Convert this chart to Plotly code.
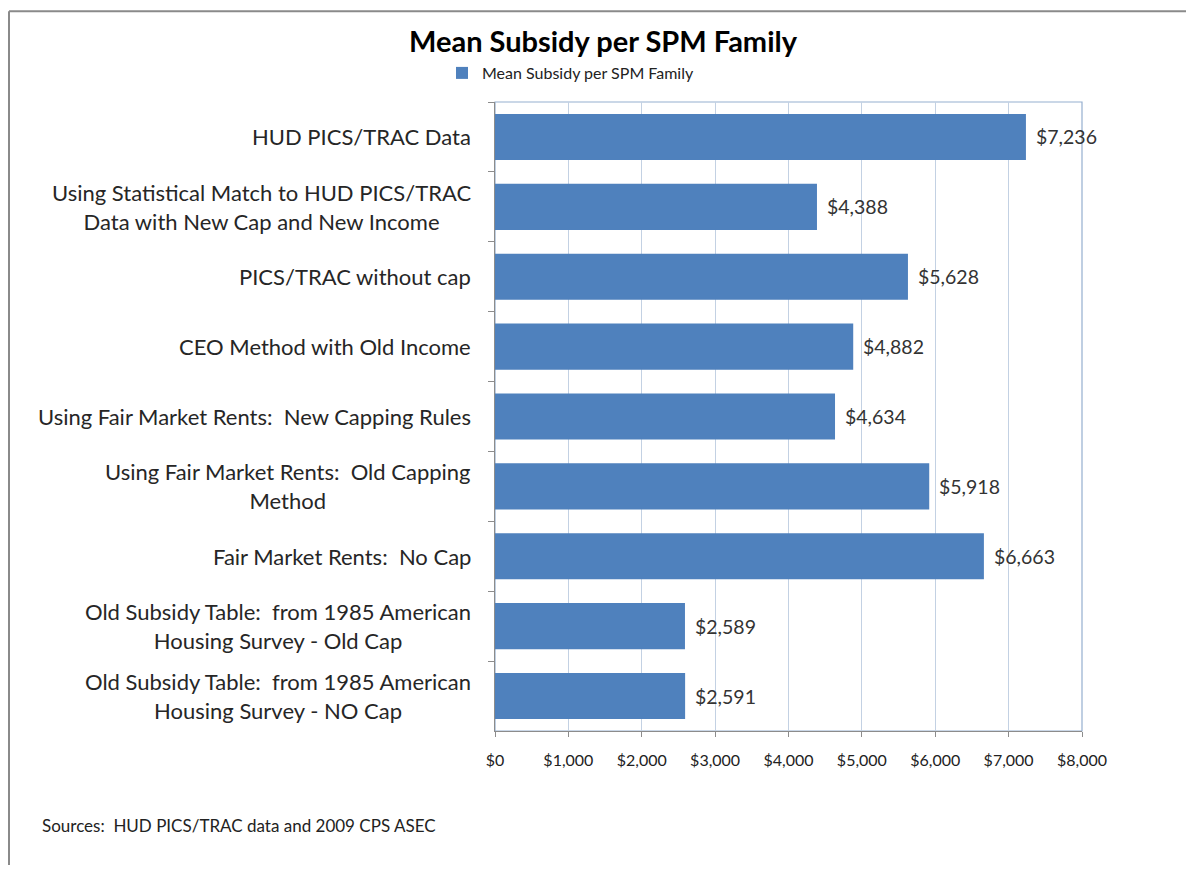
import plotly.graph_objects as go

categories = [
    "HUD PICS/TRAC Data",
    "Using Statistical Match to HUD PICS/TRAC<br>Data with New Cap and New Income",
    "PICS/TRAC without cap",
    "CEO Method with Old Income",
    "Using Fair Market Rents:  New Capping Rules",
    "Using Fair Market Rents:  Old Capping<br>Method",
    "Fair Market Rents:  No Cap",
    "Old Subsidy Table:  from 1985 American<br>Housing Survey - Old Cap",
    "Old Subsidy Table:  from 1985 American<br>Housing Survey - NO Cap",
]
values = [7236, 4388, 5628, 4882, 4634, 5918, 6663, 2589, 2591]
tick_vals = [0, 1000, 2000, 3000, 4000, 5000, 6000, 7000, 8000]
tick_text = ["$0", "$1,000", "$2,000", "$3,000", "$4,000", "$5,000", "$6,000", "$7,000", "$8,000"]
series_name = "Mean Subsidy per SPM Family"
title_text = "Mean Subsidy per SPM Family"
source_text = "Sources:  HUD PICS/TRAC data and 2009 CPS ASEC"

FONT = "Lato, 'Open Sans', sans-serif"
W, H = 1178, 857
L, R, T, B = 487, 104, 92, 134
PW = W - L - R
PH = H - T - B

def px_to_paper_x(px):
    return (px - L) / PW

def px_to_paper_y(py):
    return (H - B - py) / PH

fig = go.Figure()
fig.add_trace(go.Bar(
    y=categories, x=values, orientation="h", name=series_name,
    marker=dict(color="#4f81bd", line=dict(width=0)),
    showlegend=True,
))

annotations = []
for c in categories:
    annotations.append(dict(
        x=0, xref="paper", y=c, yref="y", text=c, showarrow=False,
        xanchor="right", yanchor="middle", align="center", xshift=-22,
        font=dict(family=FONT, size=22, color="#262626"),
    ))
for c, v in zip(categories, values):
    annotations.append(dict(
        x=v, xref="x", y=c, yref="y", text="${:,}".format(v), showarrow=False,
        xanchor="left", yanchor="middle", xshift=8,
        font=dict(family=FONT, size=19.5, color="#333333"),
    ))
annotations.append(dict(
    x=px_to_paper_x(32), xref="paper", y=px_to_paper_y(818), yref="paper",
    text=source_text, showarrow=False, xanchor="left", yanchor="middle",
    font=dict(family=FONT, size=17, color="#222222"),
))

shapes = [
    dict(type="rect", xref="paper", yref="paper", x0=0, x1=1, y0=0, y1=1,
         line=dict(color="#95afcf", width=1.2), layer="below"),
    dict(type="line", xref="paper", yref="paper",
         x0=px_to_paper_x(1), x1=px_to_paper_x(1), y0=px_to_paper_y(1), y1=px_to_paper_y(H + 5),
         line=dict(color="#8a8a8a", width=2)),
    dict(type="line", xref="paper", yref="paper",
         x0=px_to_paper_x(1), x1=px_to_paper_x(W + 5), y0=px_to_paper_y(1), y1=px_to_paper_y(1),
         line=dict(color="#8a8a8a", width=2)),
]

fig.update_layout(
    width=W, height=H,
    margin=dict(l=L, r=R, t=T, b=B, pad=0),
    paper_bgcolor="white", plot_bgcolor="white",
    bargap=0.34,
    title=dict(text="<b>" + title_text + "</b>", x=595 / W, xref="container", xanchor="center",
               y=1 - 34 / H, yref="container", yanchor="middle",
               font=dict(family=FONT, size=29, color="#000000")),
    legend=dict(orientation="h", x=434 / W, xref="container", xanchor="left",
                y=1 - 65 / H, yref="container", yanchor="middle",
                font=dict(family=FONT, size=16, color="#222222"),
                itemwidth=30, bgcolor="rgba(0,0,0,0)"),
    xaxis=dict(range=[0, 8000], tickvals=tick_vals, ticktext=tick_text,
               showgrid=True, gridcolor="#c3d1e3", gridwidth=1,
               zeroline=False, showline=True, linecolor="#8c8c8c", linewidth=1,
               ticks="outside", ticklen=5, tickcolor="#8c8c8c",
               ticklabelstandoff=10,
               tickfont=dict(family=FONT, size=16, color="#222222"),
               fixedrange=True),
    yaxis=dict(categoryorder="array", categoryarray=categories, autorange="reversed",
               showticklabels=False, showgrid=False, zeroline=False,
               showline=True, linecolor="#8c8c8c", linewidth=1,
               ticks="outside", tickson="boundaries", ticklen=6, tickcolor="#8c8c8c",
               fixedrange=True),
    annotations=annotations,
    shapes=shapes,
)

fig.write_html("out.html")
